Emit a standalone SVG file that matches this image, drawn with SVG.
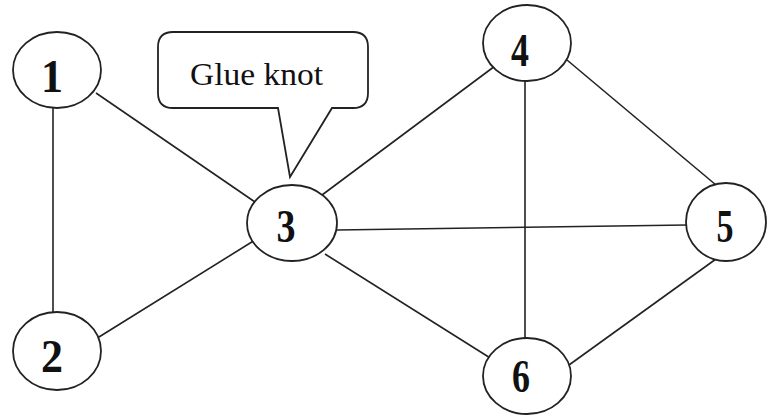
<svg xmlns="http://www.w3.org/2000/svg" width="770" height="416" viewBox="0 0 770 416">
<style>
.e{fill:#fff;stroke:#222;stroke-width:1.8}
.c line{stroke:#222;stroke-width:1.6}
.d{font-family:"Liberation Serif","Times New Roman",serif;font-weight:bold;font-size:46px;fill:#111;text-anchor:middle}
.t{font-family:"Liberation Serif","Times New Roman",serif;font-size:31px;fill:#111}
</style>
<rect width="770" height="416" fill="#fff"/>
<g class="c" id="connectors">
<line x1="53" y1="108" x2="53" y2="312"/>
<line x1="96" y1="93" x2="255" y2="202"/>
<line x1="99" y1="337" x2="255" y2="240"/>
<line x1="322" y1="195" x2="495" y2="66"/>
<line x1="337" y1="230" x2="687" y2="225"/>
<line x1="325" y1="254" x2="495" y2="361"/>
<line x1="525" y1="81" x2="525" y2="338"/>
<line x1="567" y1="60" x2="716" y2="185"/>
<line x1="716" y1="259" x2="569" y2="365"/>
</g>
<g id="callout">
<path d="M173,32 H353 Q368,32 368,47 V93 Q368,108 353,108 H332 L290,177 L278,108 H173 Q158,108 158,93 V47 Q158,32 173,32 Z" fill="#fff" stroke="#222" stroke-width="1.8"/>
<text class="t" x="190" y="85" textLength="133" lengthAdjust="spacingAndGlyphs">Glue knot</text>
</g>
<g id="n1"><ellipse class="e" cx="57" cy="70" rx="44" ry="38"/><text class="d" x="52" y="92" textLength="22" lengthAdjust="spacingAndGlyphs">1</text></g>
<g id="n2"><ellipse class="e" cx="57" cy="351" rx="44" ry="39"/><text class="d" x="52" y="372" textLength="22" lengthAdjust="spacingAndGlyphs">2</text></g>
<g id="n3"><ellipse class="e" cx="292" cy="223" rx="45" ry="38"/><text class="d" x="286" y="242" textLength="19" lengthAdjust="spacingAndGlyphs">3</text></g>
<g id="n4"><ellipse class="e" cx="527" cy="43" rx="44" ry="38"/><text class="d" x="520" y="66" textLength="18" lengthAdjust="spacingAndGlyphs">4</text></g>
<g id="n5"><ellipse class="e" cx="726" cy="222" rx="40" ry="39"/><text class="d" x="725" y="242" textLength="17" lengthAdjust="spacingAndGlyphs">5</text></g>
<g id="n6"><ellipse class="e" cx="527" cy="376" rx="44" ry="38"/><text class="d" x="521" y="392" textLength="18" lengthAdjust="spacingAndGlyphs">6</text></g>
</svg>
